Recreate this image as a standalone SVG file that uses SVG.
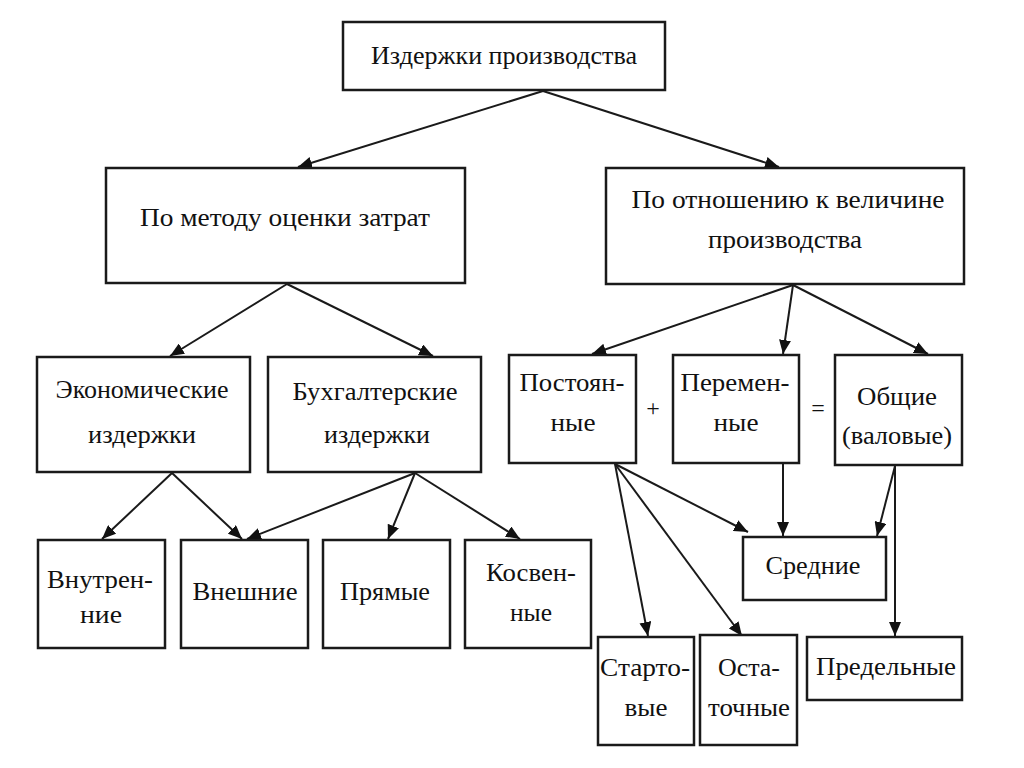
<svg xmlns="http://www.w3.org/2000/svg" width="1024" height="768" viewBox="0 0 1024 768">
<style>
.box{fill:#fff;stroke:#1a1a1a;stroke-width:2.5}
.t{font-size:26px;fill:#111;text-anchor:middle}
.op{font-size:24px;fill:#111;text-anchor:middle}
.c{stroke:#1a1a1a;stroke-width:2;fill:none;marker-end:url(#ah)}
</style>
<defs>
<marker id="ah" viewBox="0 0 14 12" refX="14" refY="6" markerWidth="14" markerHeight="12" markerUnits="userSpaceOnUse" orient="auto">
<path d="M0,0 L14,6 L0,12 z" fill="#111"/>
</marker>
</defs>
<rect width="1024" height="768" fill="#fff"/>
<g id="connectors">
<line class="c" x1="543" y1="91" x2="298" y2="167"/>
<line class="c" x1="543" y1="91" x2="779" y2="167"/>
<line class="c" x1="287" y1="284" x2="170" y2="356"/>
<line class="c" x1="287" y1="284" x2="433" y2="356"/>
<line class="c" x1="793" y1="285" x2="592" y2="354"/>
<line class="c" x1="793" y1="285" x2="783" y2="354"/>
<line class="c" x1="793" y1="285" x2="928" y2="354"/>
<line class="c" x1="172" y1="473" x2="102" y2="539"/>
<line class="c" x1="172" y1="473" x2="242" y2="539"/>
<line class="c" x1="415" y1="473" x2="247" y2="539"/>
<line class="c" x1="415" y1="473" x2="388" y2="539"/>
<line class="c" x1="415" y1="473" x2="520" y2="539"/>
<line class="c" x1="615" y1="464" x2="748" y2="532"/>
<line class="c" x1="615" y1="464" x2="648" y2="636"/>
<line class="c" x1="615" y1="464" x2="742" y2="636"/>
<line class="c" x1="783" y1="464" x2="783" y2="536"/>
<line class="c" x1="895" y1="466" x2="877" y2="536"/>
<line class="c" x1="895" y1="466" x2="895" y2="636"/>
</g>
<g font-family="Liberation Serif, Times New Roman, serif">
<g id="n_izderzhki"><rect class="box" x="343" y="22" width="322" height="68"/><text class="t" x="504" y="64" textLength="266" lengthAdjust="spacingAndGlyphs">Издержки производства</text></g>
<g id="n_metod"><rect class="box" x="106" y="168" width="359" height="115"/><text class="t" x="285" y="226" textLength="290" lengthAdjust="spacingAndGlyphs">По методу оценки затрат</text></g>
<g id="n_otnoshenie"><rect class="box" x="606" y="168" width="358" height="116"/><text class="t" x="788" y="208" textLength="313" lengthAdjust="spacingAndGlyphs">По отношению к величине</text><text class="t" x="785" y="248" textLength="154" lengthAdjust="spacingAndGlyphs">производства</text></g>
<g id="n_ekon"><rect class="box" x="37" y="357" width="213" height="115"/><text class="t" x="142" y="398" textLength="173" lengthAdjust="spacingAndGlyphs">Экономические</text><text class="t" x="142" y="443" textLength="108" lengthAdjust="spacingAndGlyphs">издержки</text></g>
<g id="n_buh"><rect class="box" x="268" y="357" width="213" height="115"/><text class="t" x="375" y="400" textLength="165" lengthAdjust="spacingAndGlyphs">Бухгалтерские</text><text class="t" x="377" y="443" textLength="106" lengthAdjust="spacingAndGlyphs">издержки</text></g>
<g id="n_post"><rect class="box" x="509" y="355" width="127" height="108"/><text class="t" x="572" y="391" textLength="105" lengthAdjust="spacingAndGlyphs">Постоян-</text><text class="t" x="573" y="431" textLength="45" lengthAdjust="spacingAndGlyphs">ные</text></g>
<text class="op" x="653" y="416">+</text>
<g id="n_perem"><rect class="box" x="673" y="355" width="126" height="108"/><text class="t" x="735" y="391" textLength="109" lengthAdjust="spacingAndGlyphs">Перемен-</text><text class="t" x="736" y="431" textLength="45" lengthAdjust="spacingAndGlyphs">ные</text></g>
<text class="op" x="818" y="416">=</text>
<g id="n_obsh"><rect class="box" x="835" y="355" width="127" height="110"/><text class="t" x="897" y="405" textLength="80" lengthAdjust="spacingAndGlyphs">Общие</text><text class="t" x="897" y="444" textLength="110" lengthAdjust="spacingAndGlyphs">(валовые)</text></g>
<g id="n_vnutr"><rect class="box" x="38" y="540" width="127" height="108"/><text class="t" x="100" y="588" textLength="106" lengthAdjust="spacingAndGlyphs">Внутрен-</text><text class="t" x="101" y="623" textLength="42" lengthAdjust="spacingAndGlyphs">ние</text></g>
<g id="n_vnesh"><rect class="box" x="181" y="540" width="127" height="108"/><text class="t" x="245" y="600" textLength="105" lengthAdjust="spacingAndGlyphs">Внешние</text></g>
<g id="n_pryam"><rect class="box" x="323" y="540" width="127" height="108"/><text class="t" x="385" y="600" textLength="90" lengthAdjust="spacingAndGlyphs">Прямые</text></g>
<g id="n_kosv"><rect class="box" x="465" y="540" width="126" height="108"/><text class="t" x="531" y="581" textLength="90" lengthAdjust="spacingAndGlyphs">Косвен-</text><text class="t" x="531" y="621" textLength="42" lengthAdjust="spacingAndGlyphs">ные</text></g>
<g id="n_sred"><rect class="box" x="743" y="537" width="143" height="63"/><text class="t" x="813" y="574" textLength="95" lengthAdjust="spacingAndGlyphs">Средние</text></g>
<g id="n_start"><rect class="box" x="598" y="637" width="96" height="108"/><text class="t" x="645" y="676" textLength="90" lengthAdjust="spacingAndGlyphs">Старто-</text><text class="t" x="646" y="716" textLength="43" lengthAdjust="spacingAndGlyphs">вые</text></g>
<g id="n_ostat"><rect class="box" x="700" y="635" width="97" height="110"/><text class="t" x="749" y="676" textLength="62" lengthAdjust="spacingAndGlyphs">Оста-</text><text class="t" x="749" y="716" textLength="82" lengthAdjust="spacingAndGlyphs">точные</text></g>
<g id="n_pred"><rect class="box" x="807" y="637" width="155" height="63"/><text class="t" x="886" y="675" textLength="140" lengthAdjust="spacingAndGlyphs">Предельные</text></g>
</g>
</svg>
